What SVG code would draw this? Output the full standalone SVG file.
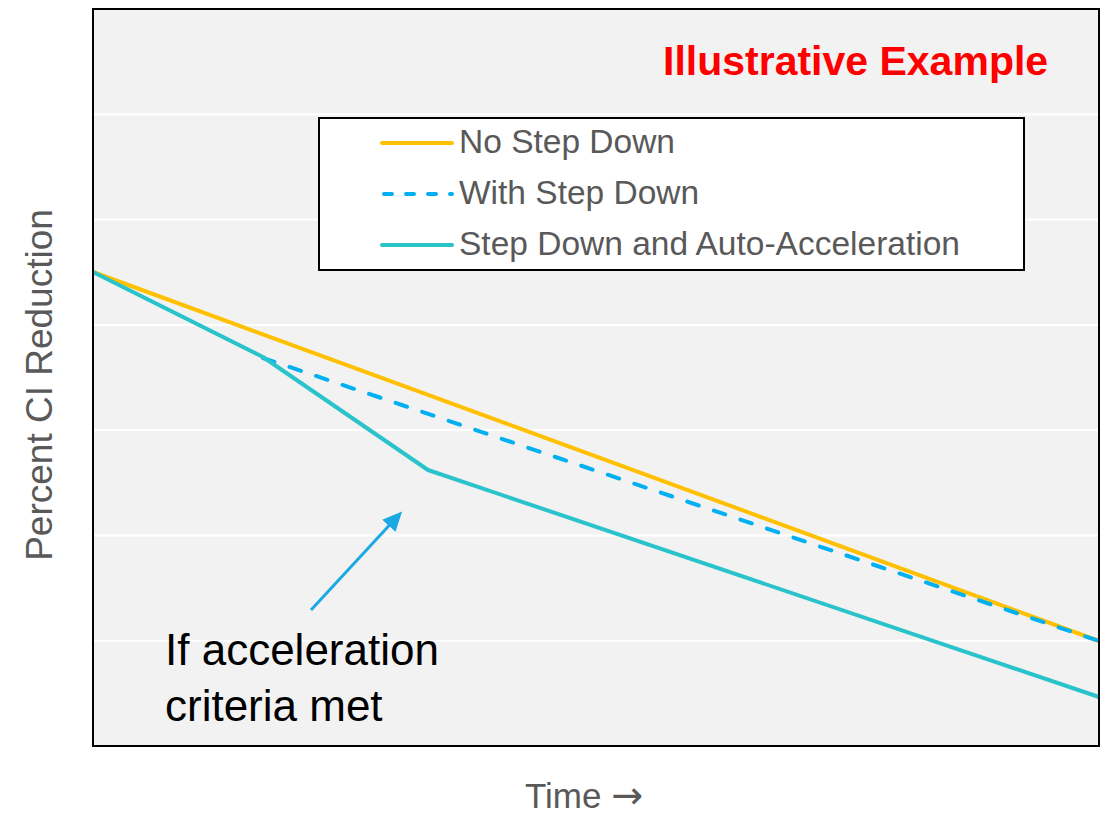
<svg xmlns="http://www.w3.org/2000/svg" width="1111" height="817" viewBox="0 0 1111 817">
  <style>
    .grid { stroke: #ffffff; stroke-width: 2; }
    .lbl { font-family: "Liberation Sans", Arial, sans-serif; fill: #595959; }
    .series { fill: none; stroke-width: 4; stroke-linejoin: round; }
  </style>
  <defs>
    <marker id="ah" markerWidth="6.5" markerHeight="6" refX="4" refY="3" orient="auto" markerUnits="strokeWidth">
      <path d="M0,0 L6.5,3 L0,6 z" fill="#1AA9E3"/>
    </marker>
  </defs>
  <rect width="1111" height="817" fill="#ffffff"/>
  <g id="plot">
    <rect x="93" y="9" width="1006" height="737" fill="#f2f2f2"/>
    <line class="grid" x1="94" y1="114.3" x2="1098" y2="114.3"/>
    <line class="grid" x1="94" y1="219.6" x2="1098" y2="219.6"/>
    <line class="grid" x1="94" y1="324.9" x2="1098" y2="324.9"/>
    <line class="grid" x1="94" y1="430.1" x2="1098" y2="430.1"/>
    <line class="grid" x1="94" y1="535.4" x2="1098" y2="535.4"/>
    <line class="grid" x1="94" y1="640.7" x2="1098" y2="640.7"/>
  </g>
  <g id="series">
    <polyline id="no-step" class="series" stroke="#FFC000" points="93,272 1099,641"/>
    <polyline id="with-step" class="series" stroke="#00B0F0" stroke-dasharray="12 16" stroke-linecap="round" points="263,358 1099,641"/>
    <polyline id="auto-accel" class="series" stroke="#2AC3CB" points="93,272 263,357 428,470 1099,697"/>
  </g>
  <rect id="frame" x="93" y="9" width="1006" height="737" fill="none" stroke="#000000" stroke-width="2"/>
  <g id="title">
    <text x="663" y="75" font-family="Liberation Sans, Arial, sans-serif" font-weight="bold" font-size="41" fill="#FF0000">Illustrative Example</text>
  </g>
  <g id="legend">
    <rect x="319" y="118" width="705" height="152" fill="#ffffff" stroke="#000000" stroke-width="2"/>
    <line x1="382" y1="143" x2="452" y2="143" stroke="#FFC000" stroke-width="4" stroke-linecap="round"/>
    <line x1="384" y1="194" x2="452" y2="194" stroke="#00B0F0" stroke-width="4" stroke-linecap="round" stroke-dasharray="8 14"/>
    <line x1="382" y1="245" x2="452" y2="245" stroke="#2AC3CB" stroke-width="4" stroke-linecap="round"/>
    <text class="lbl" x="459" y="153" font-size="33.5">No Step Down</text>
    <text class="lbl" x="459" y="204" font-size="33.5">With Step Down</text>
    <text class="lbl" x="459" y="255" font-size="33.5">Step Down and Auto-Acceleration</text>
  </g>
  <g id="y-axis-label">
    <text class="lbl" x="0" y="0" font-size="37" text-anchor="middle" transform="translate(52,385) rotate(-90)">Percent CI Reduction</text>
  </g>
  <g id="x-axis-label">
    <text class="lbl" x="525" y="808" font-size="35">Time <tspan font-family="DejaVu Sans, sans-serif" font-size="38">→</tspan></text>
  </g>
  <g id="annotation">
    <text x="165" y="665" font-family="Liberation Sans, Arial, sans-serif" font-size="44" fill="#000000">If acceleration</text>
    <text x="165" y="721" font-family="Liberation Sans, Arial, sans-serif" font-size="44" fill="#000000">criteria met</text>
  </g>
  <g id="connectors">
    <line x1="311" y1="610" x2="397" y2="517" stroke="#1AA9E3" stroke-width="3" marker-end="url(#ah)"/>
  </g>
</svg>
